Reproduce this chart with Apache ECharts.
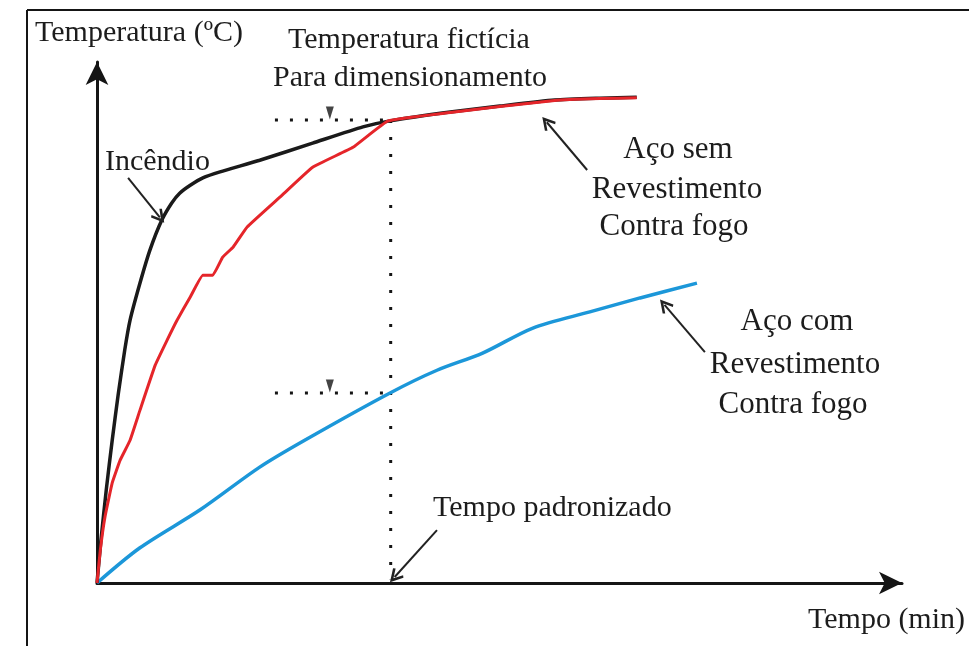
<!DOCTYPE html>
<html>
<head>
<meta charset="utf-8">
<script src="https://cdn.jsdelivr.net/npm/echarts@6/dist/echarts.min.js"></script>
<style>html,body{margin:0;padding:0;background:#fff}#c{width:969px;height:646px}</style>
</head>
<body>
<div id="c"></div>
<script>
// Tempo (min) vs Temperatura (°C) — schematic values
const incendio = [[0,0],[0.6,93],[1.4,201],[2.3,308],[3.2,406],[4.2,503],[5.0,567],[6.5,647],[8.0,718],[9.8,783],[11.3,820],[12.5,841],[14.1,858],[16.0,874],[18.6,887],[24.6,912],[32.6,949],[40.2,984],[44.3,997],[53.4,1016],[60.9,1029],[69.2,1042],[76.0,1046],[81.6,1048]];
const acoSemRevestimento = [[0,0],[0.5,71],[1.2,142],[2.3,216],[3.5,265],[5.0,308],[6.5,373],[8.8,470],[10.6,524],[12.1,567],[14.1,617],[16.0,664],[17.5,664],[19.0,703],[20.6,725],[22.7,768],[27.7,833],[32.6,897],[38.7,940],[44.0,997],[53.4,1015],[60.9,1028],[69.2,1041],[76.0,1045],[81.6,1047]];
const acoComRevestimento = [[0,0],[6.5,76],[15.6,158],[24.6,250],[31.4,308],[44.3,410],[51.4,459],[58.3,496],[65.9,550],[74.5,585],[82.1,615],[90.7,647]];
const tempoPadronizado = 44.4;
const tempFicticiaSem = 999;
const tempFicticiaCom = 410;
const guiaInicio = 26.9;
const marcaTempo = 35.2;
const eixoX = {min: 0, max: 121.7};
const eixoY = {min: 0, max: 1124};
// annotation arrows: [from, to]
const setaIncendio = [[4.7,874],[9.5,789]];
const setaSem = [[74.1,891],[68.0,994]];
const setaCom = [[91.9,498],[85.8,600]];
const setaTempo = [[51.4,114],[45.0,13]];

const chart = echarts.init(document.getElementById('c'), null, {renderer:'canvas'});
const FONT = 'Liberation Serif, Times New Roman, serif';
const TXT = '#1c1c1c';
const chevron = 'path://M5,0 L10,9 L8.6,10.2 L5,3.8 L1.4,10.2 L0,9 Z';
function txt(s, x, y, align, size){
  return {type:'text', x:x, y:y, style:{text:s, fill:TXT, font: (size||30)+'px '+FONT, textAlign:align||'left', textVerticalAlign:'middle'}, silent:true};
}
function seta(p){ return [{coord:p[0]},{coord:p[1]}]; }
const axisCommon = {
  type:'value', axisLabel:{show:false}, axisTick:{show:false}, splitLine:{show:false},
  axisLine:{show:true, onZero:true, symbol:['none','arrow'], symbolSize:[17,23], lineStyle:{color:'#151515', width:3}}
};
chart.setOption({
  animation:false,
  backgroundColor:'#fff',
  grid:{left:97, right:67, top:62, bottom:63, containLabel:false},
  xAxis:Object.assign({}, axisCommon, eixoX),
  yAxis:Object.assign({}, axisCommon, eixoY),
  graphic:[
    {type:'line', shape:{x1:27,y1:10,x2:969,y2:10}, style:{stroke:'#151515', lineWidth:2}, silent:true},
    {type:'line', shape:{x1:27,y1:10,x2:27,y2:646}, style:{stroke:'#151515', lineWidth:2}, silent:true},
    txt('Temperatura (ºC)', 35, 33),
    txt('Temperatura fictícia', 288, 40),
    txt('Para dimensionamento', 273, 78),
    txt('Incêndio', 105, 162),
    txt('Aço sem', 678, 150, 'center', 31),
    txt('Revestimento', 677, 190, 'center', 31),
    txt('Contra fogo', 674, 227, 'center', 31),
    txt('Aço com', 797, 322, 'center', 31),
    txt('Revestimento', 795, 365, 'center', 31),
    txt('Contra fogo', 793, 405, 'center', 31),
    txt('Tempo padronizado', 433, 508),
    txt('Tempo (min)', 808, 620)
  ],
  series:[
    {type:'line', name:'guia', data:[[tempoPadronizado,tempFicticiaSem],[tempoPadronizado,8]], symbol:'none', silent:true,
      lineStyle:{color:'#151515', width:3, type:[3,14], cap:'butt'}, z:1},
    {type:'line', name:'guia2', data:[[guiaInicio,tempFicticiaSem],[tempoPadronizado,tempFicticiaSem]], symbol:'none', silent:true,
      lineStyle:{color:'#151515', width:3, type:[3,12], cap:'butt'}, z:1},
    {type:'line', name:'guia3', data:[[guiaInicio,tempFicticiaCom],[tempoPadronizado,tempFicticiaCom]], symbol:'none', silent:true,
      lineStyle:{color:'#151515', width:3, type:[3,12], cap:'butt'}, z:1},
    {type:'scatter', name:'marcas', data:[[marcaTempo,tempFicticiaSem],[marcaTempo,tempFicticiaCom]], symbol:'triangle', symbolRotate:180,
      symbolSize:[8,13], symbolOffset:[0,-7], itemStyle:{color:'#151515'}, silent:true, z:3},
    {type:'line', name:'Aço com revestimento', data:acoComRevestimento, symbol:'none', smooth:0.3, silent:true,
      lineStyle:{color:'#1c97d9', width:3.5}, z:2,
      markLine:{silent:true, symbol:['none',chevron], symbolSize:[14,14], label:{show:false}, animation:false,
        lineStyle:{color:'#222', width:2, type:'solid'},
        emphasis:{disabled:true},
        data:[seta(setaIncendio), seta(setaSem), seta(setaCom), seta(setaTempo)]}},
    {type:'line', name:'Incêndio', data:incendio, symbol:'none', smooth:0.2, silent:true,
      lineStyle:{color:'#1a1a1a', width:3.5}, z:2},
    {type:'line', name:'Aço sem revestimento', data:acoSemRevestimento, symbol:'none', smooth:0.1, silent:true,
      lineStyle:{color:'#e5252a', width:3}, z:3}
  ]
});
</script>
</body>
</html>
